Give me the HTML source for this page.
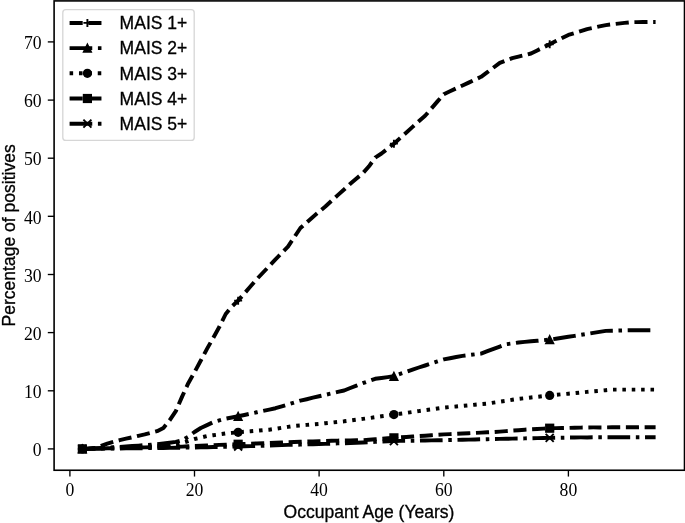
<!DOCTYPE html>
<html><head><meta charset="utf-8"><title>MAIS chart</title>
<style>
html,body{margin:0;padding:0;background:#fff;}
svg{display:block;}
.sans{font-family:"Liberation Sans",Arial,Helvetica,sans-serif;font-size:17.55px;fill:#000;stroke:#000;stroke-width:0.3px;}
.tick{font-family:"Liberation Serif","DejaVu Serif",serif;font-size:19px;fill:#000;}
</style></head><body>
<svg width="685" height="523" viewBox="0 0 685 523">
<rect width="685" height="523" fill="#fff"/>
<g fill="none" stroke="#000" stroke-linejoin="round">
<polyline points="82.4,448.9 88.6,448.7 94.8,448.0 101.1,445.8 107.3,443.7 113.5,441.9 119.7,440.2 126.0,438.7 132.2,437.3 138.4,435.8 144.7,434.4 150.9,432.8 157.1,431.2 163.4,428.0 169.6,420.4 175.8,411.1 182.1,396.6 188.3,383.2 194.5,372.2 200.8,360.5 207.0,348.9 213.2,337.9 219.4,326.8 225.7,314.0 231.9,306.5 238.1,300.6 244.4,293.5 250.6,286.3 256.8,279.1 263.1,272.5 269.3,266.0 275.5,259.4 281.8,253.0 288.0,246.6 294.2,237.3 300.4,228.0 306.7,222.4 312.9,216.9 319.1,211.7 325.4,206.5 331.6,200.8 337.8,195.1 344.1,189.5 350.3,183.8 356.5,178.5 362.8,173.3 369.0,166.3 375.2,157.6 381.5,153.5 387.7,148.6 393.9,143.7 400.1,138.1 406.4,132.5 412.6,126.9 418.8,121.3 425.1,115.8 431.3,108.6 437.5,101.4 443.8,94.2 450.0,91.3 456.2,88.4 462.5,85.5 468.7,82.6 474.9,79.7 481.1,76.8 487.4,72.2 493.6,67.5 499.8,62.9 506.1,60.5 512.3,58.2 518.5,56.6 524.8,55.1 531.0,53.5 537.2,50.4 543.5,47.3 549.7,44.2 555.9,41.1 562.1,38.0 568.4,34.9 574.6,33.0 580.8,31.1 587.1,29.1 593.3,27.8 599.5,26.4 605.8,25.1 612.0,24.3 618.2,23.6 624.5,22.9 630.7,22.2 636.9,22.1 643.2,22.0 649.4,21.9 655.6,21.9" stroke-width="3.95" stroke-dasharray="13.10 5.66"/>
<polyline points="82.4,448.9 88.6,448.6 94.8,448.3 101.1,448.0 107.3,447.7 113.5,447.3 119.7,446.9 126.0,446.4 132.2,446.0 138.4,445.6 144.7,445.1 150.9,444.7 157.1,444.2 163.4,443.5 169.6,442.7 175.8,441.9 182.1,440.2 188.3,436.7 194.5,432.0 200.8,428.0 207.0,425.1 213.2,422.2 219.4,420.4 225.7,418.7 231.9,417.5 238.1,416.3 244.4,415.0 250.6,413.6 256.8,412.3 263.1,410.9 269.3,409.6 275.5,408.2 281.8,406.3 288.0,404.4 294.2,402.5 300.4,400.6 306.7,399.2 312.9,397.7 319.1,396.3 325.4,394.8 331.6,393.4 337.8,391.9 344.1,390.5 350.3,388.0 356.5,385.6 362.8,383.2 369.0,381.0 375.2,378.8 381.5,378.0 387.7,377.1 393.9,376.2 400.1,373.9 406.4,371.8 412.6,369.6 418.8,367.5 425.1,365.5 431.3,363.4 437.5,361.4 443.8,359.4 450.0,358.2 456.2,357.0 462.5,355.9 468.7,355.1 474.9,354.3 481.1,353.6 487.4,351.2 493.6,348.9 499.8,346.6 506.1,344.2 512.3,343.4 518.5,342.5 524.8,341.9 531.0,341.3 537.2,340.8 543.5,340.2 549.7,339.6 555.9,338.7 562.1,337.7 568.4,336.8 574.6,335.9 580.8,334.9 587.1,333.9 593.3,332.9 599.5,331.9 605.8,330.9 612.0,330.7 618.2,330.6 624.5,330.4 630.7,330.3 636.9,330.3 643.2,330.3 649.4,330.3 655.6,330.3" stroke-width="3.95" stroke-dasharray="22.66 5.66 3.54 5.66"/>
<polyline points="82.4,448.9 88.6,448.7 94.8,448.5 101.1,448.2 107.3,448.0 113.5,447.8 119.7,447.6 126.0,447.4 132.2,447.2 138.4,446.9 144.7,446.6 150.9,446.3 157.1,446.0 163.4,445.7 169.6,445.4 175.8,444.2 182.1,443.1 188.3,441.1 194.5,439.0 200.8,437.6 207.0,436.1 213.2,435.2 219.4,434.4 225.7,433.5 231.9,432.9 238.1,432.3 244.4,431.8 250.6,431.3 256.8,430.8 263.1,430.2 269.3,429.7 275.5,428.8 281.8,427.8 288.0,426.9 294.2,425.9 300.4,425.4 306.7,424.9 312.9,424.4 319.1,423.9 325.4,423.2 331.6,422.6 337.8,421.9 344.1,421.3 350.3,420.5 356.5,419.7 362.8,418.9 369.0,418.1 375.2,417.2 381.5,416.3 387.7,415.5 393.9,414.6 400.1,413.7 406.4,412.9 412.6,412.0 418.8,411.1 425.1,410.2 431.3,409.4 437.5,408.5 443.8,407.6 450.0,407.0 456.2,406.5 462.5,405.9 468.7,405.3 474.9,404.7 481.1,404.1 487.4,403.6 493.6,402.6 499.8,401.7 506.1,400.8 512.3,399.8 518.5,398.9 524.8,398.2 531.0,397.5 537.2,396.8 543.5,396.1 549.7,395.4 555.9,394.8 562.1,394.2 568.4,393.7 574.6,393.1 580.8,392.5 587.1,391.9 593.3,391.3 599.5,390.8 605.8,390.2 612.0,389.6 618.2,389.6 624.5,389.6 630.7,389.6 636.9,389.6 643.2,389.6 649.4,389.6 655.6,389.6" stroke-width="3.95" stroke-dasharray="3.54 5.84"/>
<polyline points="82.4,448.9 88.6,448.8 94.8,448.6 101.1,448.5 107.3,448.3 113.5,448.2 119.7,448.0 126.0,447.9 132.2,447.7 138.4,447.6 144.7,447.4 150.9,447.3 157.1,447.2 163.4,447.0 169.6,446.9 175.8,446.7 182.1,446.6 188.3,446.3 194.5,446.0 200.8,445.7 207.0,445.4 213.2,445.2 219.4,444.9 225.7,444.7 231.9,444.5 238.1,444.2 244.4,444.0 250.6,443.7 256.8,443.5 263.1,443.2 269.3,443.0 275.5,442.7 281.8,442.5 288.0,442.2 294.2,442.0 300.4,441.8 306.7,441.6 312.9,441.4 319.1,441.2 325.4,441.0 331.6,440.8 337.8,440.6 344.1,440.5 350.3,440.4 356.5,440.3 362.8,440.2 369.0,439.7 375.2,439.2 381.5,438.8 387.7,438.3 393.9,437.9 400.1,437.4 406.4,437.0 412.6,436.5 418.8,436.1 425.1,435.7 431.3,435.2 437.5,434.8 443.8,434.4 450.0,434.1 456.2,433.8 462.5,433.5 468.7,433.2 474.9,432.9 481.1,432.6 487.4,432.3 493.6,432.0 499.8,431.6 506.1,431.1 512.3,430.6 518.5,430.2 524.8,429.7 531.0,429.3 537.2,429.0 543.5,428.6 549.7,428.2 555.9,428.1 562.1,428.0 568.4,427.9 574.6,427.7 580.8,427.6 587.1,427.5 593.3,427.4 599.5,427.4 605.8,427.4 612.0,427.3 618.2,427.3 624.5,427.3 630.7,427.3 636.9,427.3 643.2,427.2 649.4,427.2 655.6,427.2" stroke-width="3.95" stroke-dasharray="13.10 5.66"/>
<polyline points="82.4,448.9 88.6,448.8 94.8,448.8 101.1,448.7 107.3,448.6 113.5,448.5 119.7,448.5 126.0,448.4 132.2,448.3 138.4,448.2 144.7,448.2 150.9,448.1 157.1,448.0 163.4,448.0 169.6,447.9 175.8,447.8 182.1,447.7 188.3,447.6 194.5,447.5 200.8,447.3 207.0,447.2 213.2,447.0 219.4,446.9 225.7,446.7 231.9,446.6 238.1,446.5 244.4,446.3 250.6,446.1 256.8,445.9 263.1,445.7 269.3,445.5 275.5,445.3 281.8,445.1 288.0,444.9 294.2,444.8 300.4,444.6 306.7,444.4 312.9,444.2 319.1,444.0 325.4,443.9 331.6,443.7 337.8,443.4 344.1,443.2 350.3,443.0 356.5,442.7 362.8,442.5 369.0,442.2 375.2,441.9 381.5,441.6 387.7,441.3 393.9,441.1 400.1,440.9 406.4,440.8 412.6,440.7 418.8,440.6 425.1,440.5 431.3,440.4 437.5,440.3 443.8,440.2 450.0,440.0 456.2,439.9 462.5,439.7 468.7,439.6 474.9,439.5 481.1,439.3 487.4,439.2 493.6,439.0 499.8,438.9 506.1,438.8 512.3,438.6 518.5,438.5 524.8,438.4 531.0,438.2 537.2,438.1 543.5,438.0 549.7,437.9 555.9,437.8 562.1,437.7 568.4,437.6 574.6,437.5 580.8,437.4 587.1,437.4 593.3,437.3 599.5,437.3 605.8,437.3 612.0,437.3 618.2,437.3 624.5,437.3 630.7,437.3 636.9,437.3 643.2,437.3 649.4,437.3 655.6,437.3" stroke-width="3.95" stroke-dasharray="22.66 5.66 3.54 5.66"/>
</g>
<path d="M78.36 448.90H86.36M82.36 444.90V452.90" stroke="#000" stroke-width="1.9" fill="none"/>
<path d="M234.14 300.64H242.14M238.14 296.64V304.64" stroke="#000" stroke-width="1.9" fill="none"/>
<path d="M389.91 143.66H397.91M393.91 139.66V147.66" stroke="#000" stroke-width="1.9" fill="none"/>
<path d="M545.69 44.25H553.69M549.69 40.25V48.25" stroke="#000" stroke-width="1.9" fill="none"/>
<path d="M82.36 444.90L86.36 452.90H78.36Z" stroke="#000" stroke-width="1.33" stroke-linejoin="miter" fill="#000"/>
<path d="M238.14 412.34L242.14 420.34H234.14Z" stroke="#000" stroke-width="1.33" stroke-linejoin="miter" fill="#000"/>
<path d="M393.91 372.22L397.91 380.22H389.91Z" stroke="#000" stroke-width="1.33" stroke-linejoin="miter" fill="#000"/>
<path d="M549.69 335.60L553.69 343.60H545.69Z" stroke="#000" stroke-width="1.33" stroke-linejoin="miter" fill="#000"/>
<circle cx="82.36" cy="448.90" r="4.6" fill="#000"/>
<circle cx="238.14" cy="432.33" r="4.6" fill="#000"/>
<circle cx="393.91" cy="414.60" r="4.6" fill="#000"/>
<circle cx="549.69" cy="395.41" r="4.6" fill="#000"/>
<rect x="77.76" y="444.30" width="9.2" height="9.2" fill="#000"/>
<rect x="233.54" y="439.65" width="9.2" height="9.2" fill="#000"/>
<rect x="389.31" y="433.25" width="9.2" height="9.2" fill="#000"/>
<rect x="545.09" y="423.60" width="9.2" height="9.2" fill="#000"/>
<path d="M78.36 444.90L86.36 452.90M78.36 452.90L86.36 444.90" stroke="#000" stroke-width="1.9" fill="none"/>
<path d="M234.14 442.46L242.14 450.46M234.14 450.46L242.14 442.46" stroke="#000" stroke-width="1.9" fill="none"/>
<path d="M389.91 437.05L397.91 445.05M389.91 445.05L397.91 437.05" stroke="#000" stroke-width="1.9" fill="none"/>
<path d="M545.69 433.85L553.69 441.85M545.69 441.85L553.69 433.85" stroke="#000" stroke-width="1.9" fill="none"/>
<rect x="54.1" y="0.9" width="630.4" height="469.35" fill="none" stroke="#000" stroke-width="1.6"/>
<line x1="69.9" y1="470.25" x2="69.9" y2="476.55" stroke="#000" stroke-width="1.35"/>
<text class="tick" transform="translate(69.9 496.0) scale(0.93 1)" text-anchor="middle">0</text>
<line x1="194.5" y1="470.25" x2="194.5" y2="476.55" stroke="#000" stroke-width="1.35"/>
<text class="tick" transform="translate(194.5 496.0) scale(0.93 1)" text-anchor="middle">20</text>
<line x1="319.1" y1="470.25" x2="319.1" y2="476.55" stroke="#000" stroke-width="1.35"/>
<text class="tick" transform="translate(319.1 496.0) scale(0.93 1)" text-anchor="middle">40</text>
<line x1="443.8" y1="470.25" x2="443.8" y2="476.55" stroke="#000" stroke-width="1.35"/>
<text class="tick" transform="translate(443.8 496.0) scale(0.93 1)" text-anchor="middle">60</text>
<line x1="568.4" y1="470.25" x2="568.4" y2="476.55" stroke="#000" stroke-width="1.35"/>
<text class="tick" transform="translate(568.4 496.0) scale(0.93 1)" text-anchor="middle">80</text>
<line x1="47.800000000000004" y1="448.9" x2="54.1" y2="448.9" stroke="#000" stroke-width="1.35"/>
<text class="tick" transform="translate(41.7 456.0) scale(0.93 1)" text-anchor="end">0</text>
<line x1="47.800000000000004" y1="390.8" x2="54.1" y2="390.8" stroke="#000" stroke-width="1.35"/>
<text class="tick" transform="translate(41.7 397.9) scale(0.93 1)" text-anchor="end">10</text>
<line x1="47.800000000000004" y1="332.6" x2="54.1" y2="332.6" stroke="#000" stroke-width="1.35"/>
<text class="tick" transform="translate(41.7 339.8) scale(0.93 1)" text-anchor="end">20</text>
<line x1="47.800000000000004" y1="274.5" x2="54.1" y2="274.5" stroke="#000" stroke-width="1.35"/>
<text class="tick" transform="translate(41.7 281.6) scale(0.93 1)" text-anchor="end">30</text>
<line x1="47.800000000000004" y1="216.3" x2="54.1" y2="216.3" stroke="#000" stroke-width="1.35"/>
<text class="tick" transform="translate(41.7 223.5) scale(0.93 1)" text-anchor="end">40</text>
<line x1="47.800000000000004" y1="158.2" x2="54.1" y2="158.2" stroke="#000" stroke-width="1.35"/>
<text class="tick" transform="translate(41.7 165.3) scale(0.93 1)" text-anchor="end">50</text>
<line x1="47.800000000000004" y1="100.1" x2="54.1" y2="100.1" stroke="#000" stroke-width="1.35"/>
<text class="tick" transform="translate(41.7 107.2) scale(0.93 1)" text-anchor="end">60</text>
<line x1="47.800000000000004" y1="41.9" x2="54.1" y2="41.9" stroke="#000" stroke-width="1.35"/>
<text class="tick" transform="translate(41.7 49.1) scale(0.93 1)" text-anchor="end">70</text>
<text class="sans" x="369" y="518.2" text-anchor="middle">Occupant Age (Years)</text>
<text class="sans" transform="translate(15.0 235.4) rotate(-90)" text-anchor="middle">Percentage of positives</text>
<rect x="62.8" y="9.7" width="131.4" height="130.7" rx="3" ry="3" fill="#fff" fill-opacity="0.8" stroke="#ccc" stroke-opacity="0.8" stroke-width="1.33"/>
<line x1="69.6" y1="22.9" x2="104.3" y2="22.9" stroke="#000" stroke-width="3.95" stroke-dasharray="13.10 5.66"/>
<path d="M83.40 22.90H91.40M87.40 18.90V26.90" stroke="#000" stroke-width="1.9" fill="none"/>
<text class="sans" x="119.6" y="29.1">MAIS 1+</text>
<line x1="69.6" y1="48.1" x2="104.3" y2="48.1" stroke="#000" stroke-width="3.95" stroke-dasharray="22.66 5.66 3.54 5.66"/>
<path d="M87.40 44.10L91.40 52.10H83.40Z" stroke="#000" stroke-width="1.33" stroke-linejoin="miter" fill="#000"/>
<text class="sans" x="119.6" y="54.3">MAIS 2+</text>
<line x1="69.6" y1="73.3" x2="104.3" y2="73.3" stroke="#000" stroke-width="3.95" stroke-dasharray="3.54 5.84"/>
<circle cx="87.40" cy="73.30" r="4.6" fill="#000"/>
<text class="sans" x="119.6" y="79.5">MAIS 3+</text>
<line x1="69.6" y1="98.5" x2="104.3" y2="98.5" stroke="#000" stroke-width="3.95" stroke-dasharray="13.10 5.66"/>
<rect x="82.80" y="93.90" width="9.2" height="9.2" fill="#000"/>
<text class="sans" x="119.6" y="104.7">MAIS 4+</text>
<line x1="69.6" y1="123.7" x2="104.3" y2="123.7" stroke="#000" stroke-width="3.95" stroke-dasharray="22.66 5.66 3.54 5.66"/>
<path d="M83.40 119.70L91.40 127.70M83.40 127.70L91.40 119.70" stroke="#000" stroke-width="1.9" fill="none"/>
<text class="sans" x="119.6" y="129.9">MAIS 5+</text>
</svg></body></html>
